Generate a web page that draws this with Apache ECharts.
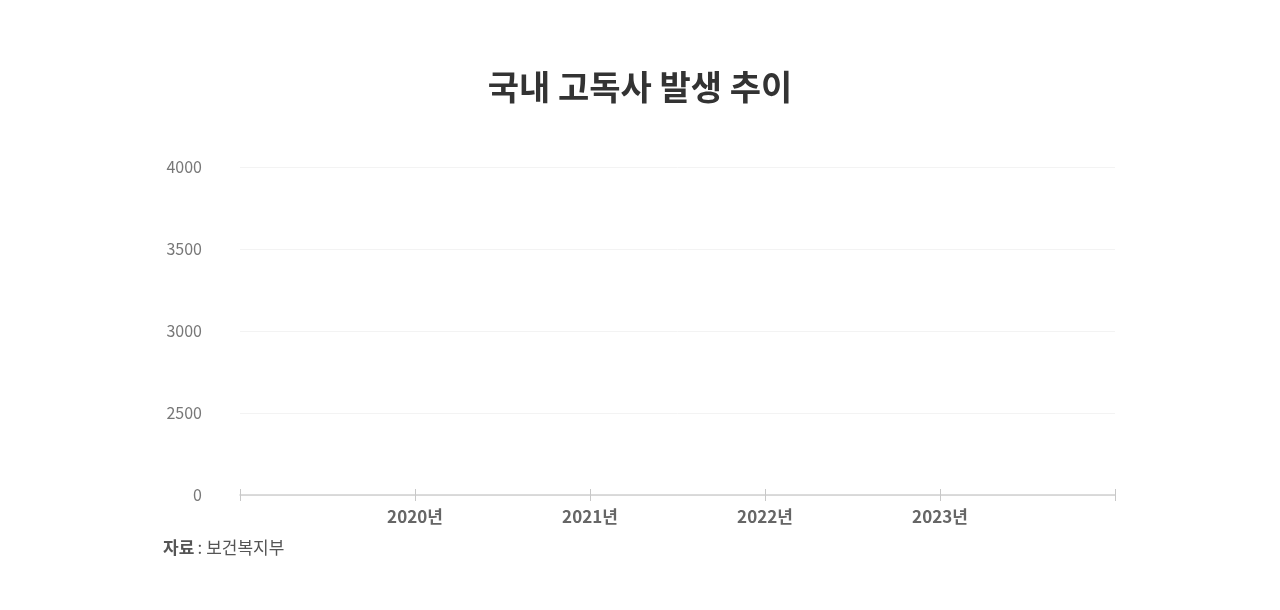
<!DOCTYPE html>
<html>
<head>
<meta charset="utf-8">
<script src="https://cdn.jsdelivr.net/npm/echarts@6/dist/echarts.min.js"></script>
<style>
html,body{margin:0;padding:0;background:#fff;}
#main{width:1280px;height:610px;}
</style>
</head>
<body>
<div id="main"></div>
<script>
const titleText = '국내 고독사 발생 추이';
const categories = ['', '2020년', '2021년', '2022년', '2023년', ''];
const yTicks = [2000, 2500, 3000, 3500, 4000];
const yTickLabels = ['0', '2500', '3000', '3500', '4000'];
const values = []; // no marks are drawn in the reference
const sourceLabel = '자료';
const sourceName = '보건복지부';

const font = '"Noto Sans CJK KR", "Noto Sans", sans-serif';
const chart = echarts.init(document.getElementById('main'));
chart.setOption({
  backgroundColor: '#fff',
  animation: false,
  title: {
    text: titleText,
    left: 'center',
    top: 65,
    textStyle: { fontSize: 34, fontWeight: 'bold', color: '#333', fontFamily: font }
  },
  graphic: [{
    type: 'text',
    left: 163,
    top: 539,
    style: {
      text: '{b|' + sourceLabel + '} {n|: ' + sourceName + '}',
      rich: {
        b: { fontSize: 17, fontWeight: 'bold', fill: '#555', fontFamily: font },
        n: { fontSize: 17, fill: '#555', fontFamily: font }
      }
    }
  }],
  grid: { left: 240, right: 165, top: 167, bottom: 115, containLabel: false },
  xAxis: [{
    type: 'category',
    data: categories,
    boundaryGap: false,
    axisLine: { lineStyle: { color: '#d0d0d0', width: 1.5 } },
    axisTick: { show: true, length: 6, lineStyle: { color: '#c8c8c8' } },
    axisLabel: { color: '#666', fontSize: 17, fontWeight: 'bold', margin: 13, fontFamily: font, interval: 0 },
    splitLine: { show: false }
  }, {
    type: 'category',
    data: categories,
    boundaryGap: false,
    position: 'bottom',
    axisLine: { show: false },
    axisTick: { show: true, inside: true, length: 6, lineStyle: { color: '#c8c8c8' } },
    axisLabel: { show: false },
    splitLine: { show: false }
  }],
  yAxis: {
    type: 'value',
    min: yTicks[0],
    max: yTicks[yTicks.length - 1],
    interval: 500,
    axisLine: { show: false },
    axisTick: { show: false },
    axisLabel: {
      color: '#777', fontSize: 16, margin: 38, fontFamily: font,
      formatter: function (v) { const i = yTicks.indexOf(v); return i >= 0 ? yTickLabels[i] : ''; }
    },
    splitLine: { lineStyle: { color: '#f3f3f3', width: 1 } }
  },
  series: [{ type: 'line', data: values, xAxisIndex: 0 }]
});
</script>
</body>
</html>
